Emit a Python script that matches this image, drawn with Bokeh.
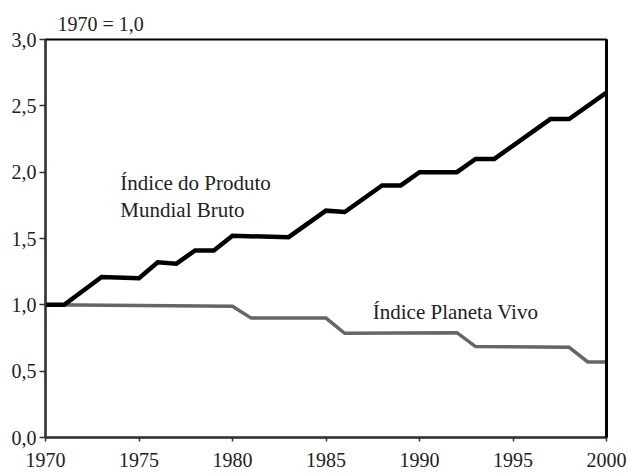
from bokeh.plotting import figure
from bokeh.models import Range1d, FixedTicker, CustomJSTickFormatter, LinearAxis, Label
from bokeh.embed import file_html
from bokeh.resources import INLINE

# Data (vertices of the stepped lines)
gwp_years = [1970, 1971, 1973, 1975, 1976, 1977, 1978, 1979, 1980, 1983, 1985, 1986,
             1988, 1989, 1990, 1992, 1993, 1994, 1997, 1998, 2000]
gwp_values = [1.00, 1.00, 1.21, 1.20, 1.32, 1.31, 1.41, 1.41, 1.52, 1.51, 1.71, 1.70,
              1.90, 1.90, 2.00, 2.00, 2.10, 2.10, 2.40, 2.40, 2.60]

lpi_years = [1970, 1980, 1981, 1985, 1986, 1992, 1993, 1998, 1999, 2000]
lpi_values = [1.00, 0.99, 0.90, 0.90, 0.785, 0.79, 0.685, 0.68, 0.57, 0.57]

x_ticks = [1970, 1975, 1980, 1985, 1990, 1995, 2000]
y_ticks = [0.0, 0.5, 1.0, 1.5, 2.0, 2.5, 3.0]

title_text = "1970 = 1,0"
gwp_label_lines = ["Índice do Produto", "Mundial Bruto"]
lpi_label = "Índice Planeta Vivo"

FONT = "Liberation Serif"

p = figure(width=628, height=473, x_range=Range1d(1970, 2000), y_range=Range1d(0, 3),
           output_backend="svg", toolbar_location=None,
           min_border_left=45, min_border_right=22, min_border_top=39, min_border_bottom=36)

p.title.text = title_text
p.title.text_font = FONT
p.title.text_font_size = "20px"
p.title.text_font_style = "normal"
p.title.align = "left"
p.title.offset = 12
p.title.text_color = "#222222"

p.xgrid.visible = False
p.ygrid.visible = False
p.background_fill_color = "white"
p.border_fill_color = "white"
p.outline_line_color = "black"
p.outline_line_width = 2

for ax in (p.xaxis[0], p.yaxis[0]):
    ax.axis_line_color = "#333333"
    ax.axis_line_width = 2
    ax.major_tick_line_color = "#333333"
    ax.major_tick_line_width = 1.5
    ax.major_tick_in = 0
    ax.major_tick_out = 6
    ax.minor_tick_line_color = None
    ax.major_label_text_font = FONT
    ax.major_label_text_font_size = "20px"
    ax.major_label_text_color = "#222222"
    ax.major_label_standoff = 3

p.xaxis.major_tick_out = 4
p.xaxis.major_label_standoff = 11
p.xaxis.ticker = FixedTicker(ticks=x_ticks)
p.yaxis.ticker = FixedTicker(ticks=y_ticks)
p.yaxis.formatter = CustomJSTickFormatter(code="return tick.toFixed(1).replace('.', ',');")

right = LinearAxis(axis_line_color="black", axis_line_width=3,
                   major_tick_line_color=None, minor_tick_line_color=None,
                   major_label_text_font_size="0px", major_label_standoff=0)
right.ticker = FixedTicker(ticks=[])
p.add_layout(right, "right")

p.line(lpi_years, lpi_values, line_color="#666666", line_width=3.5, line_join="miter")
p.line(gwp_years, gwp_values, line_color="black", line_width=4.5, line_join="miter")

p.add_layout(Label(x=1974.0, y=1.83, text=gwp_label_lines[0], text_font=FONT,
                   text_font_size="21px", text_color="#222222"))
p.add_layout(Label(x=1974.0, y=1.625, text=gwp_label_lines[1], text_font=FONT,
                   text_font_size="21px", text_color="#222222"))
p.add_layout(Label(x=1987.5, y=0.855, text=lpi_label, text_font=FONT,
                   text_font_size="21px", text_color="#222222"))

open("out.html", "w").write(file_html(p, INLINE))
